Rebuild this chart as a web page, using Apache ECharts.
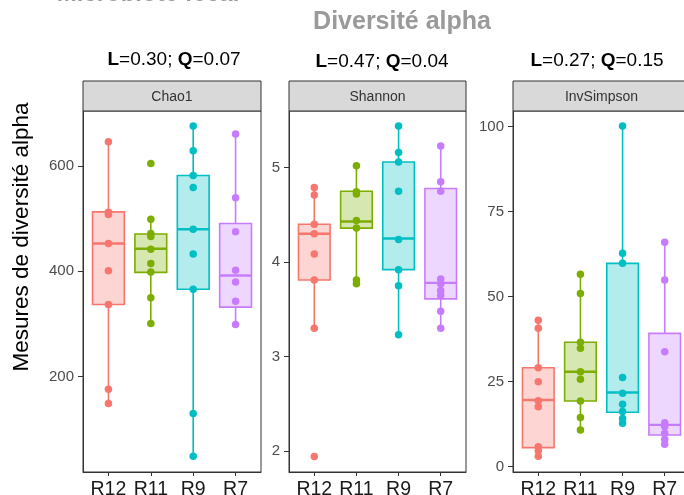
<!DOCTYPE html>
<html>
<head>
<meta charset="utf-8">
<script src="https://cdn.jsdelivr.net/npm/echarts@6/dist/echarts.min.js"></script>
<style>
html,body{margin:0;padding:0;background:#fff;}
#chart{width:684px;height:495px;}
</style>
</head>
<body>
<div id="chart"></div>
<script>
// ---- data ----
const categories = ['R12', 'R11', 'R9', 'R7'];
const colors = ['#F8766D', '#7CAE00', '#00BFC4', '#C77CFF'];
const panelNames = ['Chao1', 'Shannon', 'InvSimpson'];
const panelStats = ['L=0.30; Q=0.07', 'L=0.47; Q=0.04', 'L=0.27; Q=0.15'];

// points per category (R12, R11, R9, R7)
const chao1Points = [
  [646, 512, 508, 453, 401, 337, 176, 149],
  [605, 499, 472, 466, 442, 415, 399, 350, 301],
  [676, 629, 582, 559, 480, 433, 366, 130, 49],
  [661, 540, 475, 402, 380, 343, 299]
];
const shannonPoints = [
  [4.79, 4.71, 4.40, 4.30, 4.085, 3.81, 3.30, 1.94],
  [5.02, 4.745, 4.72, 4.44, 4.36, 3.81, 3.77],
  [5.44, 5.16, 5.06, 4.75, 4.24, 3.92, 3.75, 3.23],
  [5.23, 4.85, 4.75, 3.82, 3.77, 3.70, 3.65, 3.48, 3.30]
];
const invSimpsonPoints = [
  [43.1, 40.7, 29.1, 25.0, 19.4, 17.6, 5.9, 4.7, 3.1],
  [56.6, 50.9, 36.6, 34.8, 27.9, 25.7, 19.3, 14.5, 10.8],
  [100.2, 62.8, 59.8, 26.2, 21.6, 18.4, 16.2, 14.2, 12.8],
  [66.0, 54.9, 33.8, 12.9, 11.8, 9.8, 8.1, 6.6]
];
// box stats: [lower whisker, Q1, median, Q3, upper whisker]
const chao1Box = [[149, 337, 453, 513, 646], [301, 398, 443, 471, 499], [49, 366, 480, 582, 676], [299, 332, 392, 491, 661]];
const shannonBox = [[3.30, 3.81, 4.30, 4.40, 4.79], [3.77, 4.36, 4.43, 4.75, 5.02], [3.23, 3.92, 4.25, 5.06, 5.44], [3.30, 3.61, 3.78, 4.78, 5.23]];
const invSimpsonBox = [[3.1, 5.6, 19.6, 29.1, 43.1], [10.8, 19.3, 27.9, 36.6, 56.6], [12.8, 16.0, 21.8, 59.8, 100.2], [6.6, 9.3, 12.3, 39.2, 66.0]];

// axis ranges and tick labels
const yRanges = [[19, 704.5], [1.777, 5.6], [-1.56, 104.6]];
const yTicks = [[200, 400, 600], [2, 3, 4, 5], [0, 25, 50, 75, 100]];

// ---- layout ----
const panels = [
  { left: 83, width: 178, statX: 174, statY: 60 },
  { left: 289, width: 177, statX: 382, statY: 62 },
  { left: 513, width: 177, statX: 597, statY: 61 }
];
const gridTop = 111, gridBottom = 472, stripTop = 81;

const allPoints = [chao1Points, shannonPoints, invSimpsonPoints];
const allBoxes = [chao1Box, shannonBox, invSimpsonBox];
const FONT = 'Liberation Sans, Arial, sans-serif';

function hexA(hex, a) {
  const r = parseInt(hex.slice(1, 3), 16), g = parseInt(hex.slice(3, 5), 16), b = parseInt(hex.slice(5, 7), 16);
  return 'rgba(' + r + ',' + g + ',' + b + ',' + a + ')';
}

const grids = [], xAxes = [], yAxes = [], series = [], graphics = [];

panels.forEach((p, i) => {
  grids.push({ left: p.left, top: gridTop, width: p.width, height: gridBottom - gridTop,
    containLabel: false, outerBoundsMode: 'none',
    show: true, borderColor: '#333333', borderWidth: 1, backgroundColor: '#ffffff' });
  xAxes.push({
    type: 'value', gridIndex: i, min: 0.4, max: 4.6,
    splitLine: { show: false },
    axisLine: { show: true, onZero: false, lineStyle: { color: '#333333', width: 1 } },
    axisTick: { show: true, length: 4, customValues: [1, 2, 3, 4], lineStyle: { color: '#333333' } },
    axisLabel: { show: true, customValues: [1, 2, 3, 4], margin: 8, fontSize: 19.5, color: '#1a1a1a',
      fontFamily: FONT, formatter: v => categories[Math.round(v) - 1] || '' }
  });
  yAxes.push({
    type: 'value', gridIndex: i, min: yRanges[i][0], max: yRanges[i][1],
    splitLine: { show: false },
    axisLine: { show: true, onZero: false, lineStyle: { color: '#333333', width: 1 } },
    axisTick: { show: true, length: 5, customValues: yTicks[i], lineStyle: { color: '#333333' } },
    axisLabel: { show: true, customValues: yTicks[i], margin: 9, fontSize: 15, color: '#4d4d4d', fontFamily: FONT }
  });

  // boxes
  const boxData = allBoxes[i].map((b, k) => [k + 1].concat(b));
  series.push({
    type: 'custom', xAxisIndex: i, yAxisIndex: i, data: boxData, z: 2,
    encode: { x: 0, y: [1, 2, 3, 4, 5] },
    renderItem: function (params, api) {
      const x = api.value(0);
      const c = colors[params.dataIndex];
      const pLow = api.coord([x, api.value(1)]);
      const pQ1 = api.coord([x, api.value(2)]);
      const pMed = api.coord([x, api.value(3)]);
      const pQ3 = api.coord([x, api.value(4)]);
      const pHigh = api.coord([x, api.value(5)]);
      const hw = api.size([0.75, 0])[0] / 2;
      return {
        type: 'group',
        children: [
          { type: 'line', shape: { x1: pLow[0], y1: pLow[1], x2: pQ1[0], y2: pQ1[1] }, style: { stroke: c, lineWidth: 1.6 } },
          { type: 'line', shape: { x1: pQ3[0], y1: pQ3[1], x2: pHigh[0], y2: pHigh[1] }, style: { stroke: c, lineWidth: 1.6 } },
          { type: 'rect', shape: { x: pQ3[0] - hw, y: pQ3[1], width: hw * 2, height: pQ1[1] - pQ3[1] }, style: { fill: hexA(c, 0.3), stroke: c, lineWidth: 1.6 } },
          { type: 'line', shape: { x1: pMed[0] - hw, y1: pMed[1], x2: pMed[0] + hw, y2: pMed[1] }, style: { stroke: c, lineWidth: 2.4 } }
        ]
      };
    }
  });

  // points
  const pts = [];
  allPoints[i].forEach((arr, k) => arr.forEach(v => pts.push([k + 1, v])));
  series.push({
    type: 'scatter', xAxisIndex: i, yAxisIndex: i, data: pts, z: 3,
    symbol: 'circle', symbolSize: 7.5,
    itemStyle: { color: p => colors[p.value[0] - 1], opacity: 1 }
  });

  // strip
  graphics.push({ type: 'rect', shape: { x: p.left, y: stripTop, width: p.width, height: gridTop - stripTop },
    style: { fill: '#d9d9d9', stroke: '#333333', lineWidth: 1 }, z: 10 });
  graphics.push({ type: 'text', x: p.left + p.width / 2, y: (stripTop + gridTop) / 2 + 1,
    style: { text: panelNames[i], font: '14px ' + FONT, fill: '#333333', align: 'center', verticalAlign: 'middle' }, z: 11 });

  // stats label
  const parts = panelStats[i].split('; ');
  const lv = parts[0].split('=')[1], qv = parts[1].split('=')[1];
  graphics.push({ type: 'text', x: p.statX, y: p.statY,
    style: { text: '{b|L}=' + lv + '; {b|Q}=' + qv, align: 'center', verticalAlign: 'middle',
      font: '19px ' + FONT, fill: '#000000',
      rich: { b: { fontWeight: 'bold', fontSize: 19, fontFamily: FONT, fill: '#000000' } } }, z: 11 });
});

// titles
graphics.push({ type: 'text', x: 402, y: 22,
  style: { text: 'Diversité alpha', font: 'bold 25px ' + FONT, fill: '#9a9a9a', align: 'center', verticalAlign: 'middle' } });
graphics.push({ type: 'text', x: 148, y: -6,
  style: { text: 'Microbiote fécal', font: 'bold 24px ' + FONT, fill: '#9a9a9a', align: 'center', verticalAlign: 'middle' } });
// y-axis title
graphics.push({ type: 'text', x: 22, y: 237, rotation: Math.PI / 2,
  style: { text: 'Mesures de diversité alpha', font: '22.5px ' + FONT, fill: '#000000', align: 'center', verticalAlign: 'middle' } });

const chart = echarts.init(document.getElementById('chart'), null, { renderer: 'canvas' });
chart.setOption({
  animation: false,
  backgroundColor: '#ffffff',
  grid: grids, xAxis: xAxes, yAxis: yAxes, series: series,
  graphic: graphics
});
</script>
</body>
</html>
